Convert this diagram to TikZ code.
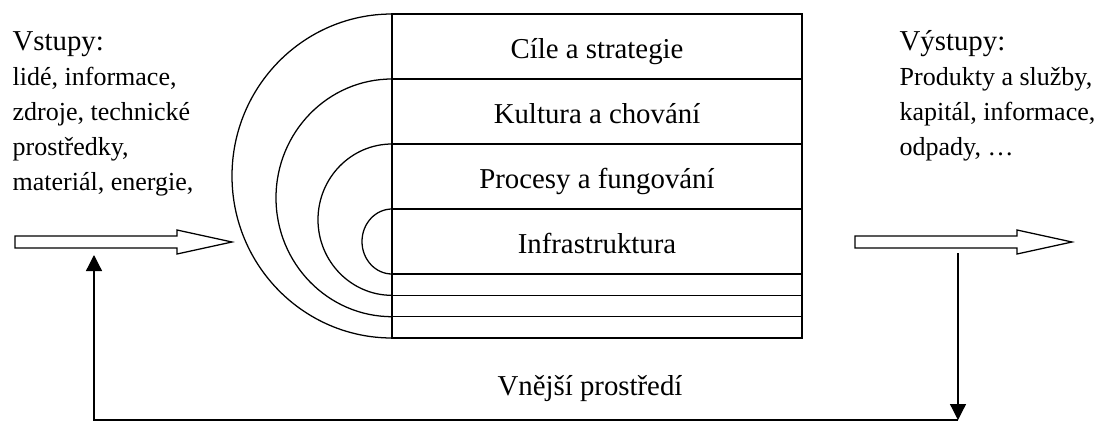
\documentclass[tikz,border=0pt]{standalone}
\usepackage{fontspec}
\setmainfont{Liberation Serif}
\usetikzlibrary{positioning,arrows.meta}

\newcommand{\velke}{\fontsize{20.5}{25}\selectfont}

\begin{document}
\begin{tikzpicture}[line width=0.9pt, font=\fontsize{18.5}{24}\selectfont,
    radek/.style={draw, font=\velke, text height=0.62cm, text depth=0pt, minimum width=10.25cm, minimum height=1.625cm, inner sep=0pt, outer sep=0pt},
    tenky/.style={draw, minimum width=10.25cm, minimum height=0.5333cm, inner sep=0pt, outer sep=0pt},
    sipka/.style={-{Triangle[length=0.4cm, width=0.4cm]}}]
    \useasboundingbox (0, 0) rectangle (27.525, 10.55);

    % vrstvy organizace
    \node[radek] (cile) at (14.925, 9.3875) {Cíle a strategie};
    \node[radek, below=0pt of cile] (kultura) {Kultura a chování};
    \node[radek, below=0pt of kultura] (procesy) {Procesy a fungování};
    \node[radek, below=0pt of procesy] (infra) {Infrastruktura};
    \node[tenky, below=0pt of infra] (tenky1) {};
    \node[tenky, below=0pt of tenky1] (tenky2) {};
    \node[tenky, below=0pt of tenky2] (tenky3) {};

    % oblouky
    \draw (cile.north west) arc[start angle=90, end angle=270, x radius=4cm, y radius=4.05cm];
    \draw (kultura.north west) arc[start angle=90, end angle=270, x radius=2.9cm, y radius=2.971cm];
    \draw (procesy.north west) arc[start angle=90, end angle=270, x radius=1.85cm, y radius=1.8917cm];
    \draw (infra.north west) arc[start angle=90, end angle=270, x radius=0.75cm, y radius=0.8125cm];

    % vstupy a vystupy
    \node[anchor=base west, inner sep=0pt, font=\velke] (vstup-1) at (0.3, 9.3) {Vstupy:};
    \foreach \t [count=\i from 2] in {{lidé, informace,}, {zdroje, technické}, {prostředky,}, {materiál, energie,}} {
        \node[anchor=base west, inner sep=0pt] (vstup-\i) at (0.3, 10.175-\i*0.875) {\t};
    }
    \node[anchor=base west, inner sep=0pt, font=\velke] (vystup-1) at (22.475, 9.3) {Výstupy:};
    \foreach \t [count=\i from 2] in {{Produkty a služby,}, {kapitál, informace,}, {odpady, …}} {
        \node[anchor=base west, inner sep=0pt] (vystup-\i) at (22.475, 10.175-\i*0.875) {\t};
    }

    % tlusté šipky
    \foreach \x in {0.375, 21.375} {
        \draw (\x, 4.35) -- ++(4.05, 0) -- ++(0, -0.15) -- ++(1.375, 0.3)
            -- ++(-1.375, 0.3) -- ++(0, -0.15) -- ++(-4.05, 0) -- cycle;
    }

    % zpětná vazba
    \coordinate (zpetR) at (23.95, 4.225);
    \coordinate (dolR) at (23.95, 0.05);
    \coordinate (zpetL) at (2.35, 4.175);
    \draw[sipka] (zpetR) -- (dolR);
    \draw[sipka] (dolR) -| (zpetL);

    \node[anchor=base, font=\velke] (okoli) at (14.75, 0.675) {Vnější prostředí};
\end{tikzpicture}
\end{document}
